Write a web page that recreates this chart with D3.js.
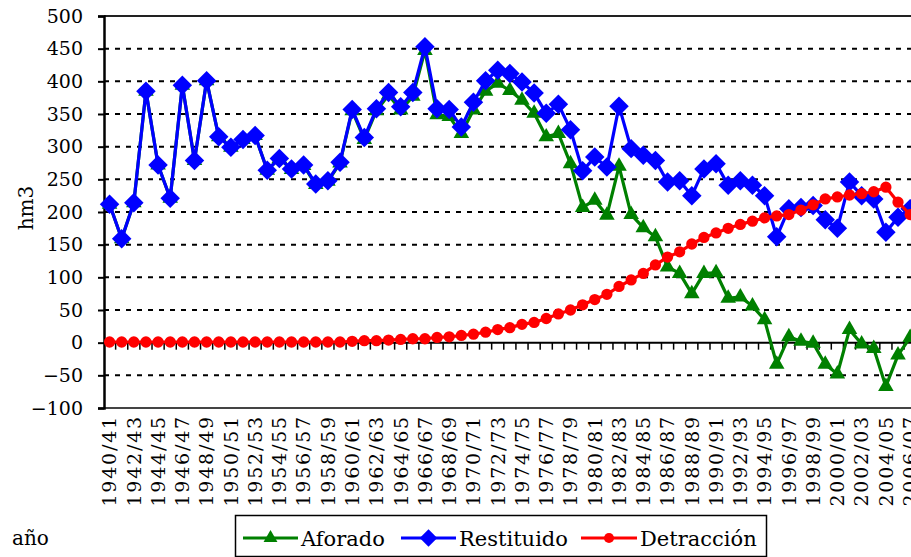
<!DOCTYPE html>
<html>
<head>
<meta charset="utf-8">
<script src="https://cdn.jsdelivr.net/npm/d3@7"></script>
<style>
    body { margin: 0; background: #fff; }
    svg { display: block; font-family: "DejaVu Serif", serif; }
</style>
</head>
<body>
<div id="chart"></div>
<script>
var years = [
    "1940/41","1941/42","1942/43","1943/44","1944/45","1945/46","1946/47","1947/48","1948/49","1949/50",
    "1950/51","1951/52","1952/53","1953/54","1954/55","1955/56","1956/57","1957/58","1958/59","1959/60",
    "1960/61","1961/62","1962/63","1963/64","1964/65","1965/66","1966/67","1967/68","1968/69","1969/70",
    "1970/71","1971/72","1972/73","1973/74","1974/75","1975/76","1976/77","1977/78","1978/79","1979/80",
    "1980/81","1981/82","1982/83","1983/84","1984/85","1985/86","1986/87","1987/88","1988/89","1989/90",
    "1990/91","1991/92","1992/93","1993/94","1994/95","1995/96","1996/97","1997/98","1998/99","1999/00",
    "2000/01","2001/02","2002/03","2003/04","2004/05","2005/06","2006/07"
];

var aforado = [
    212, 159, 214, 385, 272, 221, 394, 279, 401, 315,
    299, 311, 317, 264, 282, 265, 271, 242, 247, 275,
    355, 311, 355, 379, 356, 377, 447, 349, 346, 320,
    356, 385, 397, 386, 371, 351, 315, 320, 274, 207,
    218, 195, 270, 196, 176, 162, 116, 106, 75, 106,
    107, 68, 70, 56, 35, -33, 9, 2, -1, -33,
    -48, 20, -2, -9, -67, -19, 8
];

var restituido = [
    212, 159, 214, 385, 272, 221, 394, 279, 401, 315,
    299, 311, 317, 264, 282, 266, 272, 243, 248, 276,
    357, 314, 358, 383, 361, 383, 453, 358, 357, 330,
    368, 401, 417, 412, 399, 382, 351, 365, 326, 263,
    284, 269, 362, 297, 287, 279, 246, 248, 225, 266,
    274, 241, 248, 241, 225, 162, 205, 207, 210, 188,
    175, 246, 225, 220, 169, 192, 205
];

var detraccion = [
    1, 1, 1, 1, 1, 1, 1, 1, 1, 1,
    1, 1, 1, 1, 1, 1, 1, 1, 1, 1,
    2, 3, 3, 4, 5, 6, 6, 8, 9, 11,
    13, 16, 20, 23, 28, 31, 37, 44, 50, 58,
    66, 74, 86, 96, 106, 119, 131, 139, 151, 161,
    168, 175, 181, 186, 191, 194, 196, 203, 211, 220,
    223, 226, 228, 231, 238, 215, 196
];

var yTicks = [-100, -50, 0, 50, 100, 150, 200, 250, 300, 350, 400, 450, 500];

var width = 911, height = 557;
var plotLeft = 104, plotTop = 16, plotBottom = 408;
var step = 12.13;

var svg = d3.select("#chart").append("svg")
    .attr("width", width)
    .attr("height", height);

var x = d3.scaleBand()
    .domain(years)
    .range([plotLeft - 0.5, plotLeft - 0.5 + years.length * step]);

var y = d3.scaleLinear()
    .domain([-100, 500])
    .range([plotBottom, plotTop]);

function cx(d) { return x(d) + x.bandwidth() / 2; }

// dashed gridlines
svg.append("g")
    .selectAll("line")
    .data(yTicks.filter(function(d) { return d !== 0 && d !== -100 && d !== 500; }))
    .enter().append("line")
        .attr("x1", plotLeft)
        .attr("x2", width)
        .attr("y1", function(d) { return y(d); })
        .attr("y2", function(d) { return y(d); })
        .attr("stroke", "#000")
        .attr("stroke-width", 2)
        .attr("stroke-dasharray", "5,6");

// plot frame top / bottom
svg.append("line")
    .attr("x1", plotLeft).attr("x2", width)
    .attr("y1", y(500)).attr("y2", y(500))
    .attr("stroke", "#222").attr("stroke-width", 2);
svg.append("line")
    .attr("x1", plotLeft).attr("x2", width)
    .attr("y1", y(-100)).attr("y2", y(-100))
    .attr("stroke", "#444").attr("stroke-width", 2);

// y axis
var yAxis = svg.append("g")
    .attr("transform", "translate(" + plotLeft + ",0)")
    .call(d3.axisLeft(y).tickValues(yTicks).tickSize(6).tickPadding(15));
yAxis.select(".domain").attr("stroke-width", 2.5);
yAxis.selectAll(".tick line").attr("stroke-width", 2);
yAxis.selectAll("text")
    .attr("font-size", 19)
    .attr("font-family", "DejaVu Serif")
    .attr("fill", "#000");

// zero line with category ticks
svg.append("line")
    .attr("x1", plotLeft).attr("x2", width)
    .attr("y1", y(0)).attr("y2", y(0))
    .attr("stroke", "#000").attr("stroke-width", 2);
svg.append("g")
    .selectAll("line")
    .data(years)
    .enter().append("line")
        .attr("x1", function(d) { return x(d) + x.bandwidth(); })
        .attr("x2", function(d) { return x(d) + x.bandwidth(); })
        .attr("y1", y(0))
        .attr("y2", y(0) + 7)
        .attr("stroke", "#000")
        .attr("stroke-width", 1.5);

// x labels (every other year)
var xLabels = years.filter(function(d, i) { return i % 2 === 0; });
svg.append("g")
    .selectAll("text")
    .data(xLabels)
    .enter().append("text")
        .attr("transform", function(d) { return "translate(" + cx(d) + "," + 415 + ") rotate(-90)"; })
        .attr("text-anchor", "end")
        .attr("dy", "0.36em")
        .attr("font-size", 19)
        .attr("letter-spacing", 1.8)
        .text(function(d) { return d; });

// axis titles
svg.append("text")
    .attr("transform", "translate(33,208) rotate(-90)")
    .attr("text-anchor", "middle")
    .attr("font-size", 20)
    .text("hm3");
svg.append("text")
    .attr("x", 12).attr("y", 545)
    .attr("font-size", 20)
    .text("año");

// series
var series = [
    { name: "Aforado", values: aforado, color: "#008000", symbol: d3.symbolTriangle, size: 105, rot: 0 },
    { name: "Restituido", values: restituido, color: "#0000ff", symbol: d3.symbolSquare, size: 190, rot: 45 },
    { name: "Detracción", values: detraccion, color: "#ff0000", symbol: d3.symbolCircle, size: 100, rot: 0 }
];

var line = d3.line()
    .x(function(d, i) { return cx(years[i]); })
    .y(function(d) { return y(d); });

series.forEach(function(s) {
    var g = svg.append("g");
    g.append("path")
        .attr("d", line(s.values))
        .attr("fill", "none")
        .attr("stroke", s.color)
        .attr("stroke-width", 3.2)
        .attr("stroke-linejoin", "round");
    g.selectAll("path.marker")
        .data(s.values)
        .enter().append("path")
            .attr("class", "marker")
            .attr("d", d3.symbol().type(s.symbol).size(s.size))
            .attr("transform", function(d, i) {
                return "translate(" + cx(years[i]) + "," + y(d) + ") rotate(" + s.rot + ")";
            })
            .attr("fill", s.color);
});

// legend
var legendItems = [
    { s: series[0], x1: 243, x2: 298, tx: 301 },
    { s: series[1], x1: 401, x2: 456, tx: 459 },
    { s: series[2], x1: 581, x2: 637, tx: 640 }
];
var lg = svg.append("g");
lg.append("rect")
    .attr("x", 235.5).attr("y", 515.5)
    .attr("width", 531).attr("height", 41)
    .attr("fill", "#fff")
    .attr("stroke", "#000")
    .attr("stroke-width", 1.5);
legendItems.forEach(function(it) {
    var ly = 538;
    lg.append("line")
        .attr("x1", it.x1).attr("x2", it.x2)
        .attr("y1", ly).attr("y2", ly)
        .attr("stroke", it.s.color)
        .attr("stroke-width", 3.2);
    lg.append("path")
        .attr("d", d3.symbol().type(it.s.symbol).size(it.s.size * 0.8))
        .attr("transform", "translate(" + (it.x1 + it.x2) / 2 + "," + ly + ") rotate(" + it.s.rot + ")")
        .attr("fill", it.s.color);
    lg.append("text")
        .attr("x", it.tx).attr("y", ly)
        .attr("dy", "0.36em")
        .attr("font-size", 21)
        .text(it.s.name);
});
</script>
</body>
</html>
